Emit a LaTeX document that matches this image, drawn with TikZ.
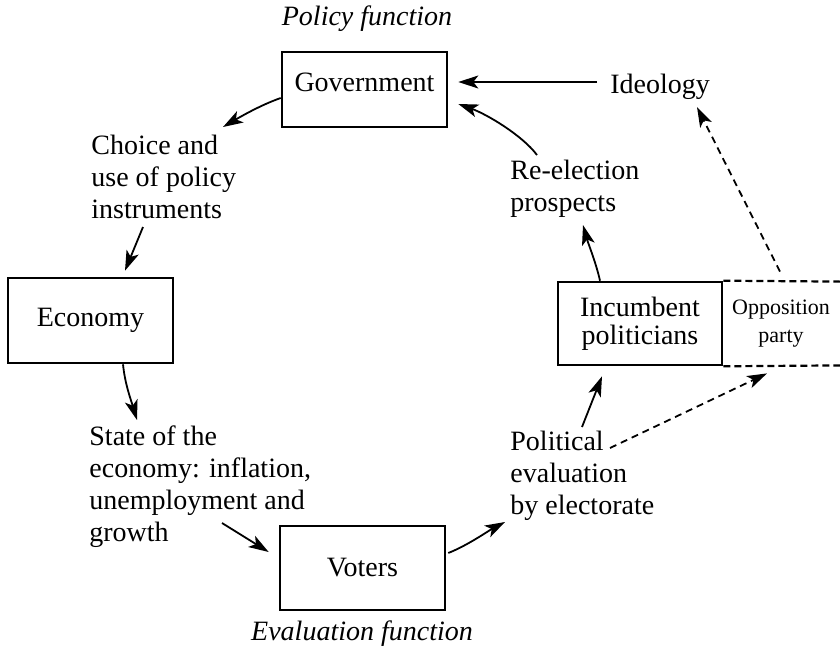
\documentclass[tikz,border=0pt]{standalone}
\usepackage{fontspec}
\setmainfont{Liberation Serif}
\usetikzlibrary{arrows.meta,calc}
\begin{document}
\begin{tikzpicture}[x=0.5pt,y=-0.5pt,
  box/.style={draw,line width=1.3pt,minimum width=82.5pt,inner sep=0pt,
    font=\fontsize{14}{14}\selectfont,align=center},
  lbl/.style={inner sep=0pt,font=\fontsize{14}{16}\selectfont,align=left,anchor=base west},
  ital/.style={inner sep=0pt,font=\fontsize{14}{16}\selectfont\itshape,anchor=base},
  arr/.style={line width=0.9pt,-{Stealth[length=10pt,width=6.5pt,inset=2.5pt]}},
  darr/.style={arr,dash pattern=on 3.5pt off 2.5pt},
  dline/.style={line width=1.1pt,dash pattern=on 3.5pt off 2pt}]
\useasboundingbox (0,0) rectangle (840,649);

% boxes
\node[box,minimum height=37.5pt,text depth=7pt] (gov) at (364.5,89.5) {Government};
\node[box,minimum height=42.5pt] (eco) at (90.5,320.5) {Economy};
\node[box,minimum height=42pt] (vot) at (362.5,568) {Voters};
\node[box,minimum width=82pt,minimum height=41.5pt] (inc) at (640,323.5) {Incumbent\\politicians};
\node[inner sep=0pt,minimum width=59pt,minimum height=41.5pt,align=center,
  font=\fontsize{11}{14}\selectfont] (opp) at (781,323.5) {Opposition\\party};

% labels (base = baseline of last line)
\node[ital] (pf) at (367,25) {Policy function};
\node[ital] (ef) at (362,640) {Evaluation function};
\node[lbl] (ideo) at (610,93) {Ideology};
\node[lbl] (reel) at (510,211) {Re-election\\prospects};
\node[lbl] (choice) at (91,218) {Choice and\\use of policy\\instruments};
\node[lbl] (state) at (89,541) {State of the\\economy: inflation,\\unemployment and\\growth};
\node[lbl] (pol) at (510,514) {Political\\evaluation\\by electorate};

% opposition box edges
\draw[dline] (inc.north east) -- (opp.north east);
\draw[dline] (inc.south east) -- (opp.south east);

% connectors
\draw[arr] ($(ideo.base west)+(-13,-11)$) -- ($(gov.east)+(10,-7.5)$);
\draw[arr] ($(reel.base west)+(27,-56)$) .. controls +(-15,-20) and +(28,10) .. ($(gov.east)+(10,14.5)$);
\draw[arr] ($(gov.west)+(0,8.5)$) .. controls +(-20,7) and +(17,-10) .. ($(choice.base west)+(132,-91)$);
\draw[arr] ($(choice.base west)+(52,9)$) -- ($(eco.north)+(34.5,-6)$);
\draw[arr] ($(eco.south)+(32.5,0)$) .. controls +(2,20) and +(-6,-20) .. ($(state.base west)+(48,-121)$);
\draw[arr] ($(state.base west)+(133,-18)$) -- ($(vot.west)+(-10,-16)$);
\draw[arr] ($(vot.east)+(2,-15)$) .. controls +(20,-8) and +(-17,9) .. ($(pol.base west)+(-5,8)$);
\draw[arr] ($(pol.base west)+(72,-87)$) -- ($(inc.south)+(-38,10)$);
\draw[arr] ($(inc.north)+(-40,0)$) .. controls +(-4,-18) and +(5,18) .. ($(reel.base west)+(73,14)$);
\draw[darr] ($(pol.base west)+(100,-66)$) -- ($(opp.south)+(-14,8)$);
\draw[darr] ($(opp.north)+(-1,-10)$) -- ($(ideo.base west)+(87,14)$);
\end{tikzpicture}
\end{document}
